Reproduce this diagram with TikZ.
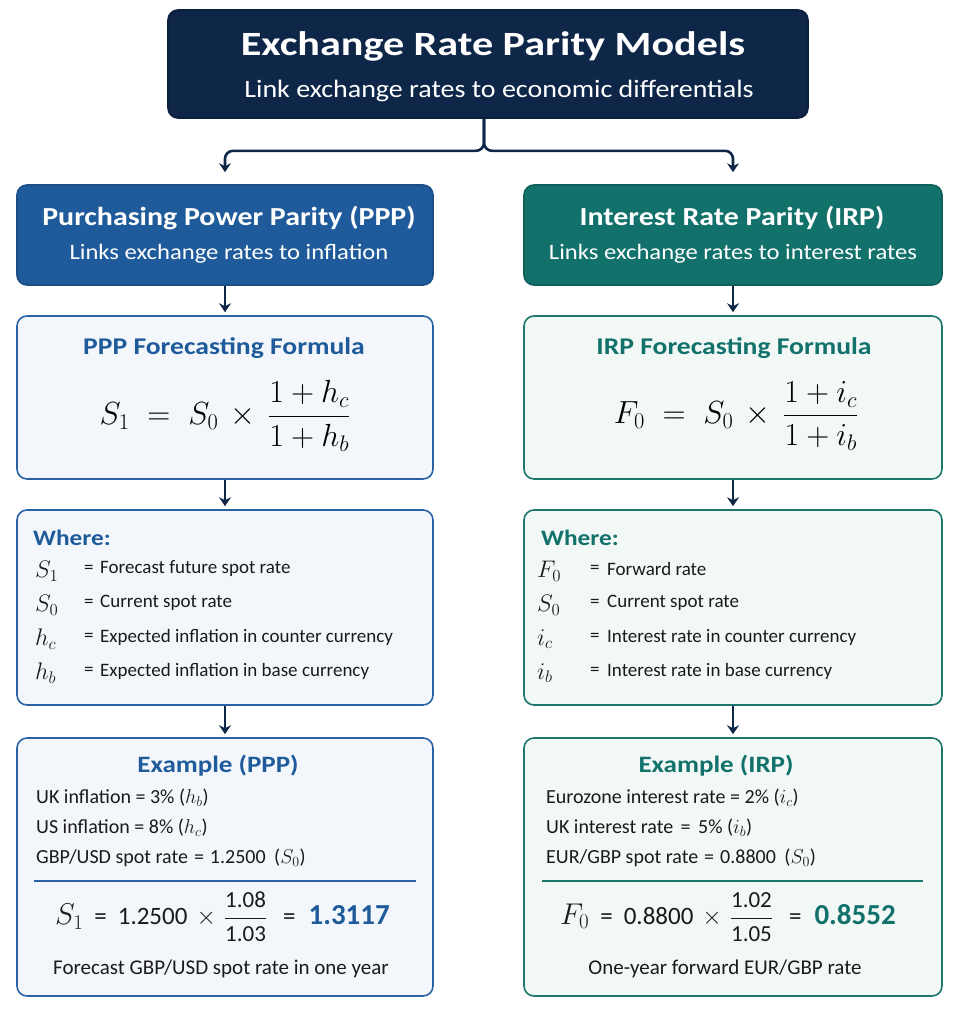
\RequirePackage{fix-cm}
\documentclass[tikz,border=0pt]{standalone}
\usepackage{amsmath}
\usepackage{fontspec}
\setmainfont{Carlito}
\newfontfamily\hdfont[FakeStretch=1.15]{Carlito}
\newfontfamily\tfont[FakeStretch=1.24]{Carlito}
\newfontfamily\subfont[FakeStretch=1.12]{Carlito}
\usetikzlibrary{arrows.meta,positioning}
\definecolor{navy}{HTML}{0E2648}
\definecolor{pblue}{HTML}{1F5B9A}
\definecolor{pborder}{HTML}{2A62A6}
\definecolor{pfill}{HTML}{F3F7FC}
\definecolor{tgreen}{HTML}{12716B}
\definecolor{tborder}{HTML}{1D776E}
\definecolor{tfill}{HTML}{F1F8F6}
\definecolor{txt}{HTML}{1A1A1A}
\newcommand{\fs}[1]{\fontsize{#1}{#1}\selectfont}
\newcommand{\eqs}{\hspace{6pt}=\hspace{6pt}}
\tikzset{
  box/.style={rounded corners=10pt, line width=1.6pt, inner sep=0pt},
  hdr/.style={box, draw=#1!85!black, fill=#1},
  lbox/.style={box, draw=#1},
  conn/.style={navy, line width=2.6pt, -{Stealth[length=9pt,width=12pt]}},
  ttl/.style={font=\hdfont\bfseries\fs{#1}, inner sep=0pt},
  sub/.style={font=\subfont\fs{#1}, text=white, inner sep=0pt},
  tx/.style={font=\fs{19}, text=txt, inner sep=0pt},
  ex/.style={font=\fs{20}, text=txt, inner sep=0pt, anchor=west},
  sym/.style={font=\fs{24}, text=txt, inner sep=0pt, anchor=west},
}
\begin{document}
\begin{tikzpicture}[x=1pt,y=-1pt]
\useasboundingbox (0,0) rectangle (958,1014);
% top
\node[hdr=navy, minimum width=640pt, minimum height=108pt] (top) at (488,64) {};
\node[text=white, font=\tfont\bfseries\fs{34}, inner sep=0pt] (toptitle) at (493,46) {Exchange Rate Parity Models};
\node[sub=25] (topsub) at (499,91) {Link exchange rates to economic differentials};
% headers
\node[hdr=pblue, minimum width=416pt, minimum height=100pt] (lh) at (225,235) {};
\node[text=white, ttl=26] (lht) at (229,218) {Purchasing Power Parity (PPP)};
\node[sub=22] (lhs) at (229,254) {Links exchange rates to inflation};
\node[hdr=tgreen, minimum width=418pt, minimum height=100pt] (rh) at (733,235) {};
\node[text=white, ttl=26] (rht) at (732,218) {Interest Rate Parity (IRP)};
\node[sub=22] (rhs) at (733,254) {Links exchange rates to interest rates};
% formula boxes
\node[lbox=pborder, fill=pfill, minimum width=416pt, minimum height=163pt] (lf) at (225,397.5) {};
\node[text=pblue, ttl=24] (lft) at (224,348) {PPP Forecasting Formula};
\node[text=black, font=\fs{32}] (lff) at (225,416) {$S_1 \;=\; S_0 \,\times\, \dfrac{1+h_c}{1+h_b}$};
\node[lbox=tborder, fill=tfill, minimum width=418pt, minimum height=163pt] (rf) at (733,397.5) {};
\node[text=tgreen, ttl=24] (rft) at (734,348) {IRP Forecasting Formula};
\node[text=black, font=\fs{32}] (rff) at (736,416) {$F_0 \;=\; S_0 \,\times\, \dfrac{1+i_c}{1+i_b}$};
% where boxes
\node[lbox=pborder, fill=pfill, minimum width=416pt, minimum height=195pt] (lw) at (225,607.5) {};
\node[text=pblue, ttl=22, anchor=west] (lwt) at (33,538) {Where:};
\node[sym] (lw1s) at (35,571) {$S_1$};
\node[tx, anchor=west] (lw1e) at (84,569) {=};
\node[tx, anchor=west] (lw1t) at (100,569) {Forecast future spot rate};
\node[sym] (lw2s) at (35,605) {$S_0$};
\node[tx, anchor=west] (lw2e) at (84,603) {=};
\node[tx, anchor=west] (lw2t) at (100,603) {Current spot rate};
\node[sym] (lw3s) at (35,639) {$h_c$};
\node[tx, anchor=west] (lw3e) at (84,637) {=};
\node[tx, anchor=west] (lw3t) at (100,637) {Expected inflation in counter currency};
\node[sym] (lw4s) at (35,673) {$h_b$};
\node[tx, anchor=west] (lw4e) at (84,671) {=};
\node[tx, anchor=west] (lw4t) at (100,671) {Expected inflation in base currency};
\node[lbox=tborder, fill=tfill, minimum width=418pt, minimum height=195pt] (rw) at (733,607.5) {};
\node[text=tgreen, ttl=22, anchor=west] (rwt) at (541,538) {Where:};
\node[sym] (rw1s) at (537,571) {$F_0$};
\node[tx, anchor=west] (rw1e) at (590,569) {=};
\node[tx, anchor=west] (rw1t) at (607,569) {Forward rate};
\node[sym] (rw2s) at (537,605) {$S_0$};
\node[tx, anchor=west] (rw2e) at (590,603) {=};
\node[tx, anchor=west] (rw2t) at (607,603) {Current spot rate};
\node[sym] (rw3s) at (537,639) {$i_c$};
\node[tx, anchor=west] (rw3e) at (590,637) {=};
\node[tx, anchor=west] (rw3t) at (607,637) {Interest rate in counter currency};
\node[sym] (rw4s) at (537,673) {$i_b$};
\node[tx, anchor=west] (rw4e) at (590,671) {=};
\node[tx, anchor=west] (rw4t) at (607,671) {Interest rate in base currency};
% example boxes
\node[lbox=pborder, fill=pfill, minimum width=416pt, minimum height=258pt] (le) at (225,867) {};
\node[text=pblue, ttl=23.5] (let) at (218,766) {Example (PPP)};
\node[ex] (le1) at (36,798) {UK inflation = 3\% ($h_b$)};
\node[ex] (le2) at (36,828) {US inflation = 8\% ($h_c$)};
\node[ex] (le3) at (36,858) {GBP/USD spot rate\eqs{}1.2500\hspace{4pt} ($S_0$)};
\coordinate (lsepa) at (34,881);
\coordinate (lsepb) at (416,881);
\draw[pborder, line width=1.2pt] (lsepa) -- (lsepb);
\node[text=txt, font=\fs{25}, anchor=west, inner sep=0pt] (lef) at (55,917) {{\fs{30}$S_1$}\hspace{11pt}=\hspace{11pt}1.2500\hspace{9pt}$\times$\hspace{8pt}$\dfrac{\text{\fs{23}1.08}}{\text{\fs{23}1.03}}$\hspace{16pt}=\hspace{13pt}\textcolor{pblue}{\bfseries\fs{29}1.3117}};
\node[tx, font=\fs{21}] (lec) at (221,969) {Forecast GBP/USD spot rate in one year};
\node[lbox=tborder, fill=tfill, minimum width=418pt, minimum height=258pt] (re) at (733,867) {};
\node[text=tgreen, ttl=23.5] (ret) at (716,766) {Example (IRP)};
\node[ex] (re1) at (546,798) {Eurozone interest rate = 2\% ($i_c$)};
\node[ex] (re2) at (546,828) {UK interest rate\hspace{3pt} = \hspace{3pt}5\% ($i_b$)};
\node[ex] (re3) at (546,858) {EUR/GBP spot rate\eqs{}0.8800\hspace{4pt} ($S_0$)};
\coordinate (rsepa) at (542,881);
\coordinate (rsepb) at (923,881);
\draw[tborder, line width=1.2pt] (rsepa) -- (rsepb);
\node[text=txt, font=\fs{25}, anchor=west, inner sep=0pt] (ref) at (560,917) {{\fs{30}$F_0$}\hspace{11pt}=\hspace{11pt}0.8800\hspace{9pt}$\times$\hspace{8pt}$\dfrac{\text{\fs{23}1.02}}{\text{\fs{23}1.05}}$\hspace{16pt}=\hspace{13pt}\textcolor{tgreen}{\bfseries\fs{29}0.8552}};
\node[tx, font=\fs{21}] (rec) at (725,969) {One-year forward EUR/GBP rate};
% connectors
\draw[conn, rounded corners=8pt, shorten >=12pt] (top.south) ++(-4,0) -- ++(0,32) -| (lh.north);
\draw[conn, rounded corners=8pt, shorten >=12pt] (top.south) ++(-4,0) -- ++(0,32) -| (rh.north);
\draw[conn, shorten >=3pt] (lh) -- (lf);
\draw[conn, shorten >=3pt] (rh) -- (rf);
\draw[conn, shorten >=3pt] (lf) -- (lw);
\draw[conn, shorten >=3pt] (rf) -- (rw);
\draw[conn, shorten >=3pt] (lw) -- (le);
\draw[conn, shorten >=3pt] (rw) -- (re);
\end{tikzpicture}
\end{document}
